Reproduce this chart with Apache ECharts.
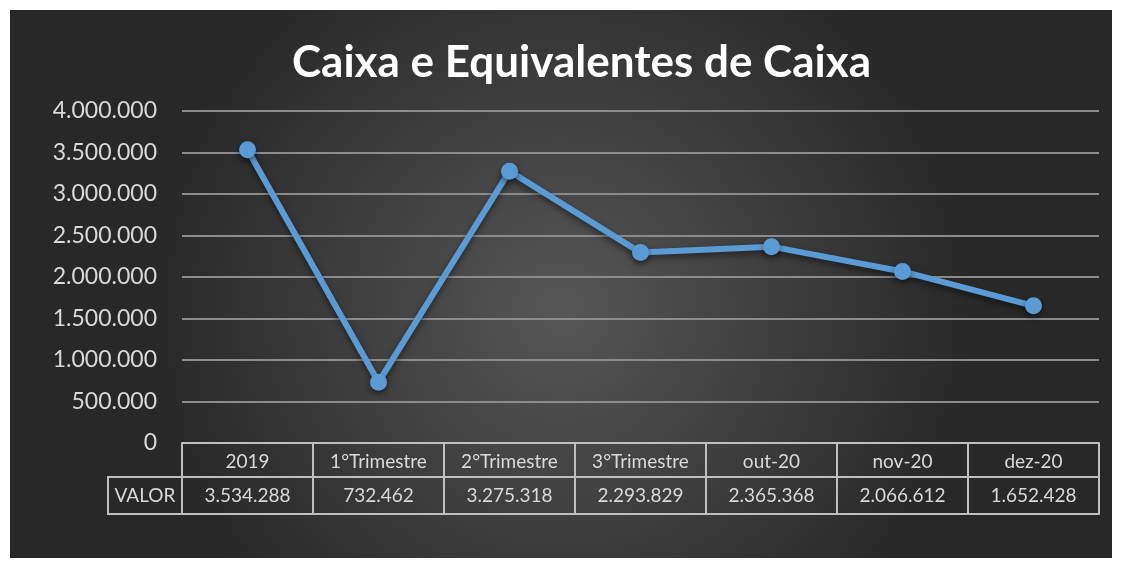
<!DOCTYPE html>
<html>
<head>
<meta charset="utf-8">
<script src="https://cdn.jsdelivr.net/npm/echarts@6/dist/echarts.min.js"></script>
<style>
  html, body { margin: 0; padding: 0; background: #fff; }
  #chart { position: absolute; left: 10px; top: 10px; width: 1102px; height: 548px; }
</style>
</head>
<body>
<div id="chart"></div>
<script>
// dados do gráfico
const categorias = ['2019', '1°Trimestre', '2°Trimestre', '3°Trimestre', 'out-20', 'nov-20', 'dez-20'];
const valores = [3534288, 732462, 3275318, 2293829, 2365368, 2066612, 1652428];
const rotuloLinha = 'VALOR';

// 3534288 -> "3.534.288"
function fmt(v) {
  return String(v).replace(/\B(?=(\d{3})+(?!\d))/g, '.');
}

const chart = echarts.init(document.getElementById('chart'));
const corTexto = '#d9d9d9';
const corBorda = '#bfbfbf';

chart.setOption({
  backgroundColor: {
    type: 'radial', x: 0.5, y: 0.55, r: 0.75,
    colorStops: [
      { offset: 0, color: '#565656' },
      { offset: 1, color: '#282828' }
    ]
  },
  title: {
    text: 'Caixa e Equivalentes de Caixa',
    left: 277,
    top: 26,
    textStyle: { color: '#ffffff', fontSize: 44, fontWeight: 'bold', fontFamily: 'Lato' }
  },
  grid: { left: 172, right: 13, top: 101, bottom: 115 },
  xAxis: [
    {
      type: 'category',
      data: categorias,
      position: 'bottom',
      axisLine: { show: true, lineStyle: { color: corBorda, width: 2 } },
      axisTick: { show: true, length: 71, lineStyle: { color: corBorda, width: 2 } },
      axisLabel: { color: corTexto, fontSize: 19, fontFamily: 'Lato', margin: 9 }
    },
    {
      type: 'category',
      data: valores.map(fmt),
      position: 'bottom',
      offset: 34,
      axisLine: { show: true, lineStyle: { color: corBorda, width: 2 } },
      axisTick: { show: false },
      axisLabel: { color: corTexto, fontSize: 19, fontFamily: 'Lato', margin: 9 }
    },
    {
      type: 'category',
      data: categorias,
      position: 'bottom',
      offset: 71,
      axisLine: { show: true, lineStyle: { color: corBorda, width: 2 } },
      axisTick: { show: false },
      axisLabel: { show: false }
    }
  ],
  yAxis: {
    type: 'value',
    min: 0,
    max: 4000000,
    interval: 500000,
    axisLine: { show: false },
    axisTick: { show: false },
    axisLabel: { color: corTexto, fontSize: 23, fontFamily: 'Lato', margin: 25, formatter: fmt },
    splitLine: { lineStyle: { color: '#8c8c8c', width: 2 } }
  },
  series: [{
    type: 'line',
    xAxisIndex: 0,
    data: valores,
    symbol: 'circle',
    symbolSize: 17,
    lineStyle: { color: '#5b9bd5', width: 6, shadowColor: 'rgba(0,0,0,0.5)', shadowBlur: 6, shadowOffsetY: 3 },
    itemStyle: { color: '#5b9bd5', shadowColor: 'rgba(0,0,0,0.5)', shadowBlur: 6, shadowOffsetY: 3 },
    silent: true
  }]
});

// célula "VALOR" à esquerda da tabela
const y0 = chart.convertToPixel({ yAxisIndex: 0 }, 0);
const x0 = chart.convertToPixel({ xAxisIndex: 0 }, 0) - (chart.convertToPixel({ xAxisIndex: 0 }, 1) - chart.convertToPixel({ xAxisIndex: 0 }, 0)) / 2;
chart.setOption({
  graphic: [{
    type: 'group',
    children: [
      {
        type: 'rect',
        shape: { x: x0 - 74, y: y0 + 34, width: 74, height: 37 },
        style: { fill: 'none', stroke: corBorda, lineWidth: 2 }
      },
      {
        type: 'text',
        x: x0 - 37, y: y0 + 52.5,
        style: { text: rotuloLinha, fill: corTexto, fontSize: 19, fontFamily: 'Lato', align: 'center', verticalAlign: 'middle' }
      }
    ]
  }]
});
</script>
</body>
</html>
